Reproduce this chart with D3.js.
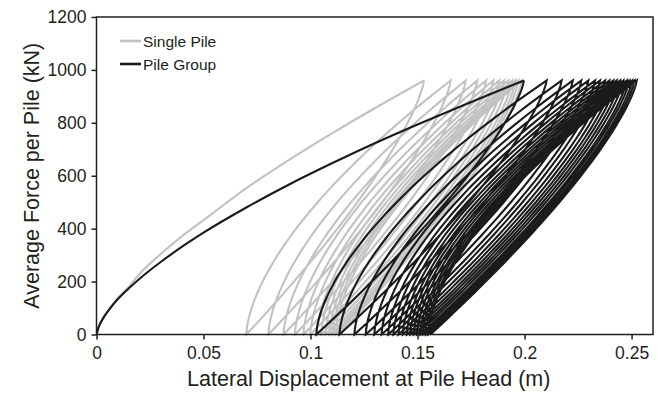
<!DOCTYPE html>
<html>
<head>
<meta charset="utf-8">
<script src="https://cdn.jsdelivr.net/npm/d3@7"></script>
<style>
  body { margin: 0; background: #fff; }
  svg { display: block; }
  text { font-family: "Liberation Sans", Arial, sans-serif; fill: #231f20; }
</style>
</head>
<body>
<svg id="chart" width="670" height="395"></svg>
<script>
// ---- data -------------------------------------------------------------
const xTicks = [0, 0.05, 0.1, 0.15, 0.2, 0.25];
const xTickLabels = ["0", "0.05", "0.1", "0.15", "0.2", "0.25"];
const yTicks = [0, 200, 400, 600, 800, 1000, 1200];
const yTickLabels = ["0", "200", "400", "600", "800", "1000", "1200"];
const seriesNames = ["Single Pile", "Pile Group"];

// cyclic force amplitude per pile (kN)
const peakForce = 960;

// first-loading (backbone) curves: displacement (m) and force (kN)
const singleBackboneDisp  = [0, 0.001, 0.003, 0.006, 0.010, 0.015, 0.020, 0.030, 0.040, 0.050, 0.070, 0.090, 0.110, 0.130, 0.153];
const singleBackboneForce = [0, 28, 60, 97, 138, 180, 228, 304, 372, 432, 553, 660, 760, 855, 960];
const groupBackboneDisp   = [0, 0.001, 0.003, 0.006, 0.010, 0.015, 0.020, 0.030, 0.040, 0.050, 0.070, 0.090, 0.110, 0.130, 0.150, 0.170, 0.185, 0.1997];
const groupBackboneForce  = [0, 28, 60, 95, 134, 174, 210, 274, 332, 385, 480, 567, 647, 723, 794, 862, 912, 960];

// displacement at each load peak and at each return to zero force (m)
const singlePeakDisp     = [0.1530, 0.1655, 0.1725, 0.1779, 0.1820, 0.1854, 0.1882, 0.1904, 0.1924, 0.1943, 0.1958, 0.1971, 0.1986];
const singleResidualDisp = [0.0700, 0.0803, 0.0874, 0.0927, 0.0967, 0.0999, 0.1028, 0.1050, 0.1070, 0.1088, 0.1103, 0.1116, 0.1130];
const groupPeakDisp      = [0.1997, 0.2103, 0.2173, 0.2225, 0.2265, 0.2298, 0.2329, 0.2352, 0.2376, 0.2396, 0.2414, 0.2430, 0.2446, 0.2461, 0.2477, 0.2489, 0.2502, 0.2513, 0.2524];
const groupResidualDisp  = [0.1027, 0.1135, 0.1205, 0.1258, 0.1298, 0.1332, 0.1363, 0.1387, 0.1411, 0.1431, 0.1450, 0.1466, 0.1482, 0.1497, 0.1513, 0.1525, 0.1538, 0.1549, 0.1560];

// ---- layout -----------------------------------------------------------
const svg = d3.select("#chart");
const W = 670, H = 395;
const margin = { left: 96.5, right: 17, top: 17, bottom: 60.5 };
const x = d3.scaleLinear().domain([0, 0.26]).range([margin.left, W - margin.right]);
const y = d3.scaleLinear().domain([0, 1200]).range([H - margin.bottom, margin.top]);

const colors = { single: "#c2c2c2", group: "#1b1b1b" };

// ---- hysteresis paths -------------------------------------------------
// Reloading rises steeply from zero force and flattens into the next peak;
// unloading drops steeply from the peak and flattens towards zero force.
const reloadExp = 0.62, unloadExp = 0.75, steps = 48;

function loopPoints(startDisp, startForce, peaks, residuals) {
  const pts = [[startDisp, startForce]];
  peaks.forEach((p, i) => {
    const r = residuals[i];
    // unloading from peak i to residual i
    for (let k = 1; k <= steps; k++) {
      const w = k / steps;
      pts.push([p - (p - r) * Math.pow(w, 1 / unloadExp), peakForce * (1 - w)]);
    }
    // reloading from residual i to peak i+1
    if (i + 1 < peaks.length) {
      const pn = peaks[i + 1];
      for (let k = 1; k <= steps; k++) {
        const u = k / steps;
        pts.push([r + (pn - r) * Math.pow(u, 1 / reloadExp), peakForce * u]);
      }
    }
  });
  return pts;
}

const line = d3.line().x(d => x(d[0])).y(d => y(d[1]));
const backboneLine = d3.line().x(d => x(d[0])).y(d => y(d[1])).curve(d3.curveMonotoneX);

const plot = svg.append("g");
plot.append("clipPath").attr("id", "clip").append("rect")
  .attr("x", x(0)).attr("y", y(1200)).attr("width", x(0.26) - x(0)).attr("height", y(0) - y(1200) + 2);

function drawSeries(bbDisp, bbForce, peaks, residuals, color) {
  const g = plot.append("g").attr("clip-path", "url(#clip)");
  g.append("path")
    .datum(bbDisp.map((d, i) => [d, bbForce[i]]))
    .attr("d", backboneLine)
    .attr("fill", "none").attr("stroke", color).attr("stroke-width", 2.1);
  const pts = loopPoints(bbDisp[bbDisp.length - 1], bbForce[bbForce.length - 1], peaks, residuals);
  g.append("path")
    .datum(pts)
    .attr("d", line)
    .attr("fill", "none").attr("stroke", color).attr("stroke-width", 2.1)
    .attr("stroke-linejoin", "miter").attr("stroke-miterlimit", 10);
}

drawSeries(singleBackboneDisp, singleBackboneForce, singlePeakDisp, singleResidualDisp, colors.single);
drawSeries(groupBackboneDisp, groupBackboneForce, groupPeakDisp, groupResidualDisp, colors.group);

// ---- axes -------------------------------------------------------------
const axisColor = "#231f20";
const xAxis = svg.append("g")
  .attr("transform", `translate(0,${y(0)})`)
  .call(d3.axisBottom(x).tickValues(xTicks).tickFormat((d, i) => xTickLabels[i]).tickSize(5).tickSizeOuter(0));
const yAxis = svg.append("g")
  .attr("transform", `translate(${x(0)},0)`)
  .call(d3.axisLeft(y).tickValues(yTicks).tickFormat((d, i) => yTickLabels[i]).tickSize(5).tickSizeOuter(0));

[xAxis, yAxis].forEach(a => {
  a.select(".domain").remove();
  a.selectAll(".tick line").attr("stroke", axisColor).attr("stroke-width", 1.5);
  a.selectAll(".tick text").attr("font-size", 17.5).attr("fill", axisColor);
});
xAxis.selectAll(".tick text").attr("dy", "0.95em");
yAxis.selectAll(".tick text").attr("x", -10).attr("dy", "0.34em");

// plot frame
svg.append("rect")
  .attr("x", x(0)).attr("y", y(1200))
  .attr("width", x(0.26) - x(0)).attr("height", y(0) - y(1200))
  .attr("fill", "none").attr("stroke", axisColor).attr("stroke-width", 1.5);

// axis titles
svg.append("text")
  .attr("x", (x(0) + x(0.26)) / 2 - 6).attr("y", 386)
  .attr("text-anchor", "middle").attr("font-size", 21.5)
  .text("Lateral Displacement at Pile Head (m)");
svg.append("text")
  .attr("transform", `translate(39,${(y(0) + y(1200)) / 2}) rotate(-90)`)
  .attr("text-anchor", "middle").attr("font-size", 21.5)
  .text("Average Force per Pile (kN)");

// ---- legend -----------------------------------------------------------
const legend = svg.append("g");
[colors.single, colors.group].forEach((c, i) => {
  const ly = 41 + i * 23;
  legend.append("line")
    .attr("x1", 120).attr("x2", 141).attr("y1", ly).attr("y2", ly)
    .attr("stroke", c).attr("stroke-width", 2.6);
  legend.append("text")
    .attr("x", 143).attr("y", ly).attr("dy", "0.36em")
    .attr("font-size", 15.5)
    .text(seriesNames[i]);
});
</script>
</body>
</html>
